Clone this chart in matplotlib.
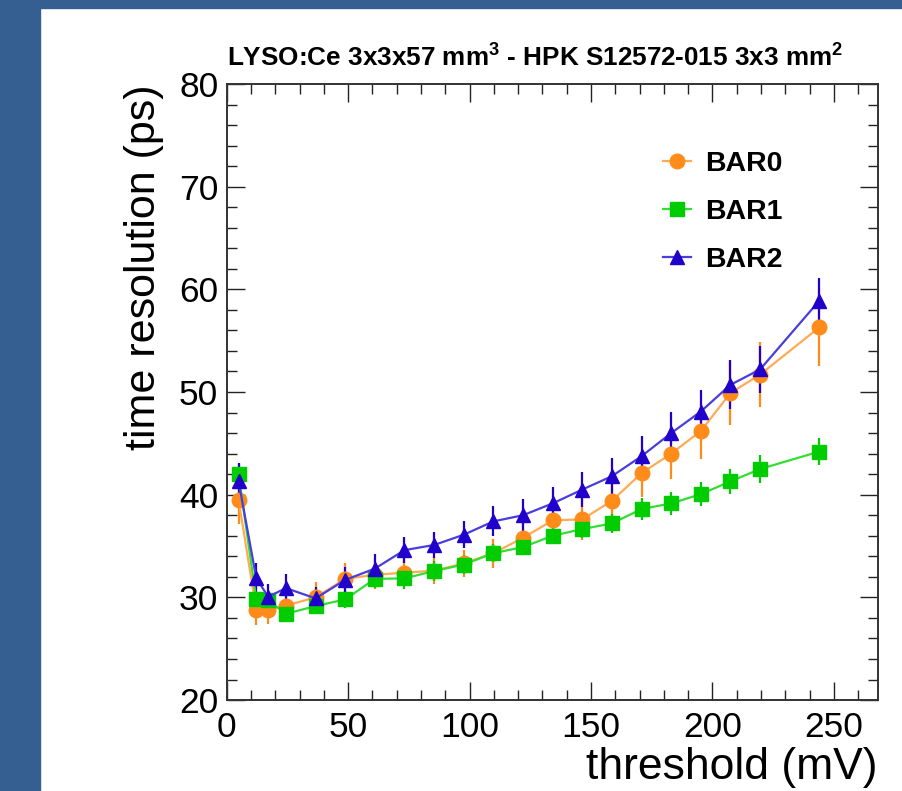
import matplotlib
matplotlib.use("Agg")
import matplotlib.pyplot as plt
from matplotlib.patches import Rectangle
from matplotlib.ticker import MultipleLocator

plt.rcParams["font.family"] = ["Liberation Sans", "DejaVu Sans"]
plt.rcParams["mathtext.fontset"] = "custom"
plt.rcParams["mathtext.rm"] = "Liberation Sans"
plt.rcParams["mathtext.bf"] = "Liberation Sans:bold"

# thresholds (mV)
threshold = [4.9, 12.2, 17.1, 24.4, 36.6, 48.8, 61.0, 73.2, 85.4, 97.6, 109.8,
             122.0, 134.2, 146.4, 158.6, 170.8, 183.0, 195.2, 207.4, 219.6, 244.0]

# time resolution (ps) per bar
bar0 = [39.5, 28.8, 28.8, 29.2, 30.0, 31.8, 32.2, 32.4, 32.6, 33.3, 34.3,
        35.8, 37.5, 37.6, 39.4, 42.1, 44.0, 46.2, 49.9, 51.7, 56.3]
bar1 = [42.0, 29.8, 29.7, 28.4, 29.15, 29.8, 31.8, 31.85, 32.56, 33.2, 34.3,
        34.9, 36.0, 36.65, 37.2, 38.6, 39.15, 40.05, 41.3, 42.5, 44.2]
bar2 = [41.3, 31.85, 30.06, 30.9, 29.9, 31.7, 32.8, 34.6, 35.1, 36.1, 37.4,
        38.0, 39.15, 40.5, 41.8, 43.75, 46.0, 48.1, 50.7, 52.2, 58.9]

# errors (ps)
err0 = [2.4, 1.5, 1.4, 1.0, 1.5, 1.5, 1.4, 1.4, 1.3, 1.3, 1.4,
        1.5, 1.8, 2.0, 2.2, 2.3, 2.5, 2.7, 3.1, 3.2, 3.8]
err1 = [1.0, 0.8, 0.7, 0.7, 0.7, 0.8, 0.9, 1.0, 1.0, 0.9, 0.9,
        0.8, 0.8, 0.9, 0.9, 1.1, 1.1, 1.2, 1.2, 1.4, 1.35]
err2 = [1.8, 1.5, 1.2, 1.4, 1.1, 1.3, 1.4, 1.3, 1.3, 1.3, 1.45,
        1.6, 1.6, 1.7, 1.75, 1.95, 2.06, 2.1, 2.4, 2.3, 2.2]

labels = ["BAR0", "BAR1", "BAR2"]

fig = plt.figure(figsize=(9.02, 7.91), dpi=100)
fig.patch.set_facecolor("white")

# faixas azuis do fundo do slide
fig.patches.append(Rectangle((0, 0), 40 / 902, 1, transform=fig.transFigure,
                             color="#365f91", zorder=0))
fig.patches.append(Rectangle((0, 1 - 8 / 791), 1, 8 / 791, transform=fig.transFigure,
                             color="#365f91", zorder=0))

ax = fig.add_axes([0.2513, 0.1150, 0.7217, 0.7788])

# serie: (valores, erros, marcador, cor do marcador, cor da linha, tamanho)
series = [
    (bar0, err0, "o", "#ff8c1a", "#ffaa55", 10.5),
    (bar1, err1, "s", "#00cc00", "#33dd33", 10),
    (bar2, err2, "^", "#2200cc", "#4a3ddd", 10.5),
]

for (vals, errs, mk, mcol, lcol, ms), lab in zip(series, labels):
    ax.errorbar(threshold, vals, yerr=errs, fmt="none", ecolor=mcol,
                elinewidth=1.6, capsize=0, zorder=2)
    ax.plot(threshold, vals, color=lcol, linewidth=1.6, marker=mk, markersize=ms,
            markerfacecolor=mcol, markeredgecolor=mcol, label=lab, zorder=3)

ax.set_xlim(0, 268)
ax.set_ylim(20, 80)

ax.xaxis.set_major_locator(MultipleLocator(50))
ax.xaxis.set_minor_locator(MultipleLocator(10))
ax.yaxis.set_major_locator(MultipleLocator(10))
ax.yaxis.set_minor_locator(MultipleLocator(2))

ax.tick_params(which="both", direction="in", top=True, right=True,
               width=1.0, color="#222222")
ax.tick_params(which="major", length=13, labelsize=25.5)
ax.tick_params(which="minor", length=7)
ax.tick_params(axis="x", which="major", pad=8)
ax.tick_params(axis="y", which="major", pad=6)

for sp in ax.spines.values():
    sp.set_linewidth(1.4)
    sp.set_color("#333333")

ax.set_xlabel("threshold (mV)", fontsize=32, loc="right")
ax.xaxis.set_label_coords(1.0, -0.077)
ax.set_ylabel("time resolution (ps)", fontsize=31, loc="top")
ax.yaxis.set_label_coords(-0.097, 1.0)

fig.text(0.2513, 1 - 66 / 791,
         r"LYSO:Ce 3x3x57 mm$^{\mathbf{3}}$ - HPK S12572-015 3x3 mm$^{\mathbf{2}}$",
         fontsize=18.8, fontweight="bold", ha="left", va="baseline")

ax.legend(loc="upper left", bbox_to_anchor=(0.648, 0.915), frameon=False,
          prop={"weight": "bold", "size": 20.5}, handlelength=1.0,
          handletextpad=0.5, labelspacing=0.78, borderpad=0)

fig.savefig("out.png", dpi=100, facecolor=fig.get_facecolor())
